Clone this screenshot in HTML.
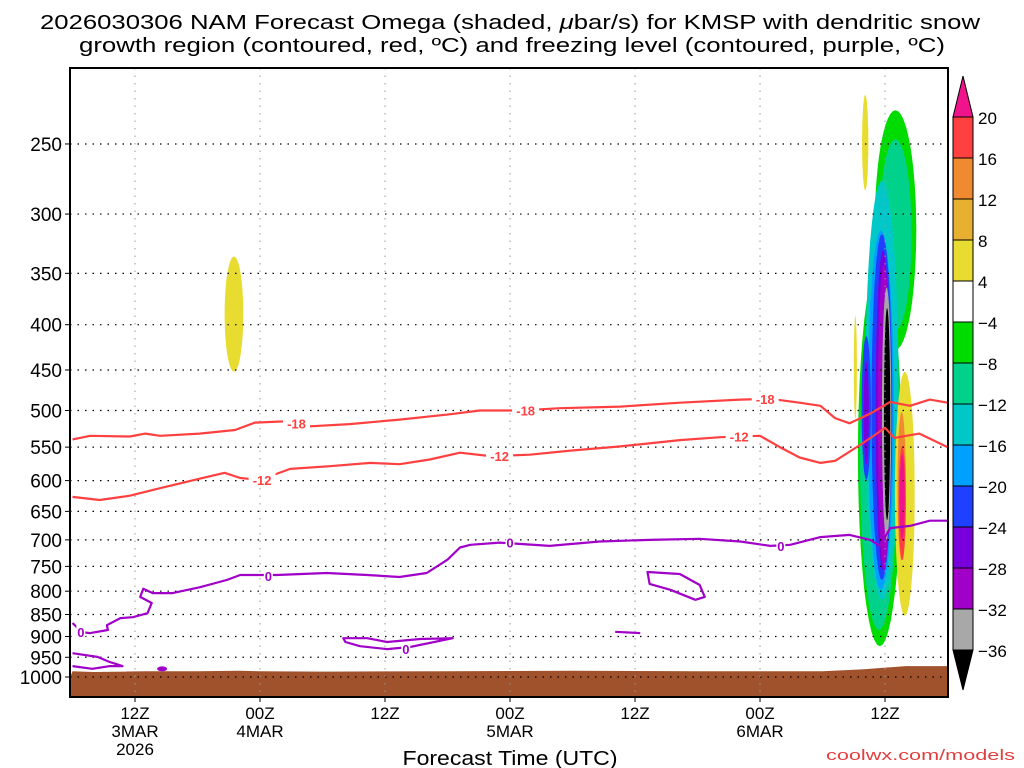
<!DOCTYPE html>
<html><head><meta charset="utf-8">
<style>
body{margin:0;background:#fff;}
svg{display:block;font-family:"Liberation Sans","DejaVu Sans",sans-serif;}
</style></head>
<body>
<svg id="chart" width="1024" height="768" viewBox="0 0 1024 768" xmlns="http://www.w3.org/2000/svg">
<rect width="1024" height="768" fill="#fff"/>
<text x="510" y="29" font-size="20" text-anchor="middle" textLength="940" lengthAdjust="spacingAndGlyphs">2026030306 NAM Forecast Omega (shaded, <tspan font-style="italic">μ</tspan>bar/s) for KMSP with dendritic snow</text>
<text x="512" y="52" font-size="20" text-anchor="middle" textLength="866" lengthAdjust="spacingAndGlyphs">growth region (contoured, red, ºC) and freezing level (contoured, purple, ºC)</text>
<g id="plot"></g>
<text x="510" y="765" font-size="20" text-anchor="middle" textLength="215" lengthAdjust="spacingAndGlyphs">Forecast Time (UTC)</text>
<text x="826" y="760" font-size="15" fill="#e04040" textLength="189" lengthAdjust="spacingAndGlyphs">coolwx.com/models</text>
</svg>
<script>
const pressureTicks=[250,300,350,400,450,500,550,600,650,700,750,800,850,900,950,1000];
const timeTickHours=[6,18,30,42,54,66,78];
const timeTickLabels=[["12Z","3MAR","2026"],["00Z","4MAR"],["12Z"],["00Z","5MAR"],["12Z"],["00Z","6MAR"],["12Z"]];
const cbLevels=[20,16,12,8,4,-4,-8,-12,-16,-20,-24,-28,-32,-36];
const cbColors=["#ff4040","#f08a30","#e8b030","#e8dc30","#ffffff","#00dc00","#00d28c","#00c8c8","#00a0ff","#2040ff","#7800dc","#a000c8","#a8a8a8"];
const surfHours=[0,2,5,7,12,16,18,24,36,48,60,72,76,80,84];
const surfP=[985,987,986,985,985,984,985,986,985,984,985,985,980,972,972];
const red18H=[0,1.7,5.5,7,8.4,12.2,15.6,17.5,20.9,22.8,26.6,31.4,36.2,39.1,43,46.8,52.6,58.3,64.1,67,69.8,71.8,73.2,74.6,76.6,78.5,80.4,82.3,84];
const red18P=[539,534,535,531,534,531,526,516,514,521,518,512,505,500,500,497,495,490,486,485,490,494,510,517,504,489,494,486,490];
const red12H=[0,2.6,5.5,8.4,12.2,14.6,16.1,18,20.9,24.7,28.6,31.4,34.3,37.2,40.1,43.9,47.8,52.6,58.3,62.2,66,67.9,69.8,71.8,73.2,75.6,77,78,78.9,81.3,84];
const red12P=[626,631,624,612,597,588,596,599,582,578,573,575,568,558,563,561,555,549,540,536,534,550,565,573,570,547,533,523,537,531,550];
const fzH=[0,0.9,1.7,3.4,3.3,4.6,5.8,7.2,7.6,6.5,6.8,7.7,9.6,12.2,14.8,16.1,19.6,24.4,28.3,31.4,34,36,37.2,38.2,41,45.8,50.6,55.4,60.2,64.1,67,68.9,71.8,74.6,76.6,77.5,78.5,80.4,82.3,84];
const fzP=[869,890,892,885,874,858,856,847,825,812,795,804,804,792,777,767,767,763,767,771,763,737,714,709,705,711,703,700,698,703,711,709,695,691,700,711,679,675,666,666];
const fzBL_H=[0,2.4,3.6,4.8,3.6,1.9,0];
const fzBL_P=[940,949,962,972,972,979,972];
const fz900H=[26,28.3,30.2,33.4,36.5,32.4,30.2,27.6,26.2,26];
const fz900P=[904,904,913,906,904,925,930,923,913,904];
const fz800H=[55.2,58.3,60.2,60.7,59.8,57.4,55.4,55.2];
const fz800P=[761,765,787,812,818,797,785,761];
const fzSmallH=[52.1,54.5];
const fzSmallP=[889,892];
const blobLevel=["y","g","g","t","t","c","lb","b","p","v","b","p","gr","k","y","y","y","o","r","pk"];
const blobH=[15.5,79,77.5,79,77.4,77.7,77.6,77.7,77.8,77.9,76.2,76.2,78.15,78.2,76.1,75.15,79.9,79.6,79.65,79.65];
const blobHW=[0.9,2.0,2.1,1.55,1.8,1.6,1.25,1.0,0.7,0.6,0.45,0.25,0.45,0.3,0.3,0.15,0.95,0.4,0.35,0.25];
const blobPT=[335,229,341,247,356,275,313,316,330,342,412,440,363,383,220,391,452,502,548,560];
const blobPB=[452,427,923,406,885,818,797,777,757,757,599,575,700,665,282,511,853,738,738,700];
const contourLabels=[["-18",21.5,517,"#ff4040"],["-18",43.5,500,"#ff4040"],["-18",66.5,485,"#ff4040"],["-12",18.2,599,"#ff4040"],["-12",41,563,"#ff4040"],["-12",64,535,"#ff4040"],["0",18.8,769,"#a000c8"],["0",42,705,"#a000c8"],["0",68,711,"#a000c8"],["0",0.8,890,"#a000c8"],["0",32,930,"#a000c8"]];

const NS="http://www.w3.org/2000/svg";
const L=70,R=948,T=68,B=697;
const X=h=>72.5+h*10.417;
const Y=p=>677-(Math.log(1000)-Math.log(p))*384.5;
const colMap={y:"#e8dc30",g:"#00dc00",t:"#00d28c",c:"#00c8c8",lb:"#00a0ff",b:"#2040ff",p:"#7800dc",v:"#a000c8",gr:"#a8a8a8",k:"#000000",o:"#f08a30",r:"#ff4040",pk:"#f0148c"};
const plot=document.getElementById('plot');
function mk(tag,attrs,parent){const e=document.createElementNS(NS,tag);for(const k in attrs)e.setAttribute(k,attrs[k]);(parent||plot).appendChild(e);return e;}
const clip=mk('clipPath',{id:'pc'});mk('rect',{x:L,y:T,width:R-L,height:B-T},clip);
const inner=mk('g',{'clip-path':'url(#pc)'});
blobLevel.forEach((lv,i)=>{
  const pts=[];const yt=Y(blobPT[i]),yb=Y(blobPB[i]);const cy=(yt+yb)/2,ry=(yb-yt)/2;const cx=X(blobH[i]),rx=blobHW[i]*10.417;
  for(let a=0;a<48;a++){const t=a/48*2*Math.PI;pts.push((cx+rx*Math.cos(t)).toFixed(1)+","+(cy+ry*Math.sin(t)).toFixed(1));}
  const e=mk('polygon',{points:pts.join(' '),fill:colMap[lv]},inner);
  
  
});
{let d="M"+X(surfHours[0]-1)+","+B;surfHours.forEach((h,i)=>{d+=" L"+X(h).toFixed(1)+","+Y(surfP[i]).toFixed(1);});d+=" L"+(R+2)+","+Y(surfP[surfP.length-1]).toFixed(1)+" L"+(R+2)+","+B+" Z";
const e=mk('path',{d:d,fill:"#a0522d"},inner);

}
pressureTicks.forEach(p=>{const g=mk('line',{x1:L,x2:R,y1:Y(p),y2:Y(p),stroke:"#000","stroke-width":1.2,"stroke-dasharray":"1.5 6"},inner);

});
timeTickHours.forEach(h=>{const g=mk('line',{x1:X(h),x2:X(h),y1:T,y2:B,stroke:"#999","stroke-width":1,"stroke-dasharray":"1.5 6"},inner);

});
function line(H,P,color,name,close){const pts=H.map((h,i)=>X(h).toFixed(1)+","+Y(P[i]).toFixed(1)).join(' ');
const e=mk(close?'polygon':'polyline',{points:pts,fill:"none",stroke:color,"stroke-width":2.2,"stroke-linejoin":"round"},inner);

}
line(red18H,red18P,"#ff4040","contour-minus18");
line(red12H,red12P,"#ff4040","contour-minus12");
line(fzH,fzP,"#a000c8","freezing-level");
line(fzBL_H,fzBL_P,"#a000c8","freezing-level-sfc");
line(fz900H,fz900P,"#a000c8","freezing-loop-900",true);
line(fz800H,fz800P,"#a000c8","freezing-loop-800",true);
line(fzSmallH,fzSmallP,"#a000c8","freezing-small");
{const d=mk('ellipse',{cx:X(8.6),cy:Y(979),rx:5,ry:2.5,fill:"#a000c8"},inner);

}
contourLabels.forEach(c=>{const x=X(c[1]),y=Y(c[2]);
const bg=mk('rect',{x:x-(c[0].length*4.5),y:y-7,width:c[0].length*9,height:14,fill:"#fff"},inner);


const t=mk('text',{x:x,y:y+5,"font-size":13,"font-weight":"bold",fill:c[3],"text-anchor":"middle"},inner);t.textContent=c[0];

});
{const f=mk('rect',{x:L,y:T,width:R-L,height:B-T,fill:"none",stroke:"#000","stroke-width":2});

}
pressureTicks.forEach(p=>{mk('line',{x1:L-5,x2:L,y1:Y(p),y2:Y(p),stroke:"#000"});
const t=mk('text',{x:L-8,y:Y(p)+7,"font-size":19,"text-anchor":"end"});t.textContent=p;

});
timeTickHours.forEach((h,i)=>{mk('line',{x1:X(h),x2:X(h),y1:B,y2:B+5,stroke:"#000"});
timeTickLabels[i].forEach((s,j)=>{const t=mk('text',{x:X(h),y:B+22+j*18,"font-size":17,"text-anchor":"middle"});t.textContent=s;

});});
const cx0=953,cw=20,ct=117,step=41;
{const tri=mk('polygon',{points:`${cx0},${ct} ${cx0+cw},${ct} ${cx0+cw/2},${76}`,fill:"#f0148c",stroke:"#000"});

}
cbColors.forEach((c,i)=>{const r=mk('rect',{x:cx0,y:ct+i*step,width:cw,height:step,fill:c,stroke:"#000"});

});
{const yb=ct+cbColors.length*step;const tri=mk('polygon',{points:`${cx0},${yb} ${cx0+cw},${yb} ${cx0+cw/2},${yb+40}`,fill:"#000",stroke:"#000"});

}
cbLevels.forEach((v,i)=>{const t=mk('text',{x:978,y:ct+i*step+7,"font-size":17});t.textContent=v<0?"−"+(-v):String(v);

});
</script>
</body></html>
